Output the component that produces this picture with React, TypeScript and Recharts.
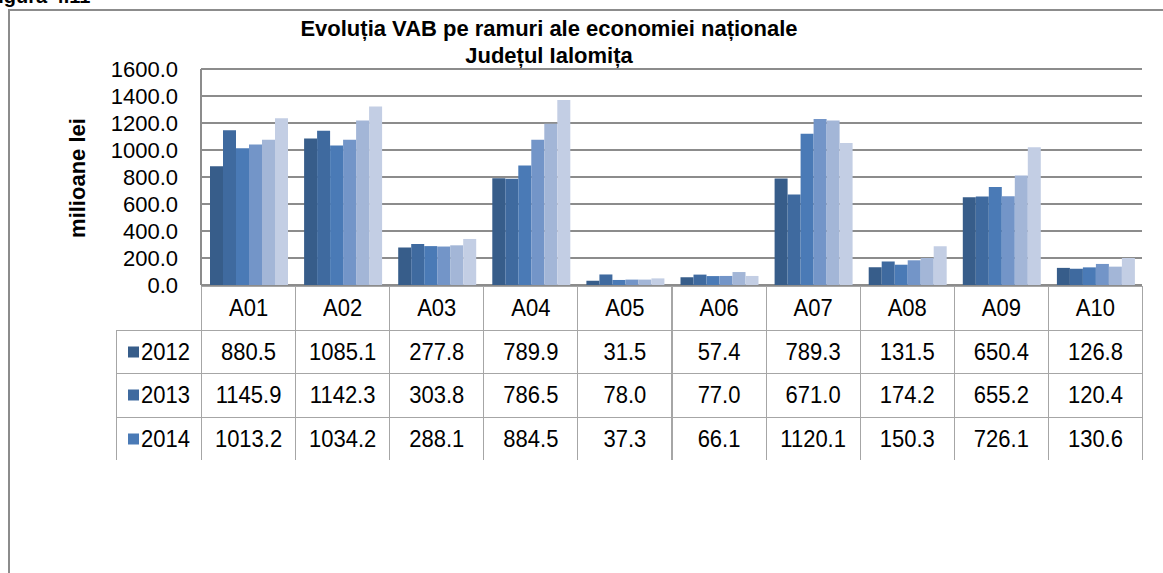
import { Bar, BarChart, CartesianGrid, XAxis, YAxis } from "recharts";

const categories = ["A01", "A02", "A03", "A04", "A05", "A06", "A07", "A08", "A09", "A10"];
const years = ["2012", "2013", "2014", "2015", "2016", "2017"];
const colors = ["#375d8a", "#3f6a9f", "#4a7ab6", "#7395c8", "#a3b6d7", "#c3cee4"];

const v2012 = [880.5, 1085.1, 277.8, 789.9, 31.5, 57.4, 789.3, 131.5, 650.4, 126.8];
const v2013 = [1145.9, 1142.3, 303.8, 786.5, 78.0, 77.0, 671.0, 174.2, 655.2, 120.4];
const v2014 = [1013.2, 1034.2, 288.1, 884.5, 37.3, 66.1, 1120.1, 150.3, 726.1, 130.6];
// later years are not in the visible part of the table
const v2015 = [1040, 1076, 285, 1076, 40, 67, 1229, 183, 658, 156];
const v2016 = [1076, 1219, 294, 1194, 40, 96, 1219, 200, 811, 136];
const v2017 = [1236, 1323, 341, 1370, 49, 67, 1051, 287, 1021, 200];

const series = [v2012, v2013, v2014, v2015, v2016, v2017];
const yTicks = [0, 200, 400, 600, 800, 1000, 1200, 1400, 1600];
const tableRows = 3; // only 2012-2014 rows are visible in the figure

const W = 1163;
const H = 573;
const plotLeft = 201;
const plotRight = 1142;
const plotTop = 69;
const plotBottom = 285;
const colW = (plotRight - plotLeft) / categories.length;
const rowH = 43.5;
const font = "'Liberation Sans', Arial, sans-serif";
const lineColor = "#a6a6a6";

const rows = categories.map((c, i) => {
  const r: Record<string, string | number> = { cat: c };
  years.forEach((y, k) => (r[y] = series[k][i]));
  return r;
});

function DataTable() {
  const cell = (left: number, top: number, w: number, content: React.ReactNode, key: string) => (
    <div
      key={key}
      style={{
        position: "absolute",
        left,
        top,
        width: w,
        height: rowH,
        borderLeft: `1px solid ${lineColor}`,
        borderRight: `1px solid ${lineColor}`,
        borderTop: `1px solid ${lineColor}`,
        boxSizing: "border-box",
        display: "flex",
        alignItems: "center",
        justifyContent: "center",
        fontFamily: font,
        fontSize: 22,
        color: "#000",
      }}
    >
      <span style={{ display: "inline-block", transform: "scaleY(1.1)" }}>{content}</span>
    </div>
  );
  const out: React.ReactNode[] = [];
  categories.forEach((c, i) => out.push(cell(plotLeft + i * colW, plotBottom + 1, colW + 1, c, "h" + i)));
  for (let r = 0; r < tableRows; r++) {
    const top = plotBottom + 1 + rowH * (r + 1);
    out.push(
      cell(
        116,
        top,
        plotLeft - 116 + 1,
        <span style={{ display: "flex", alignItems: "center" }}>
          <span style={{ width: 11, height: 10, background: colors[r], marginRight: 2 }} />
          {years[r]}
        </span>,
        "l" + r
      )
    );
    categories.forEach((_, i) =>
      out.push(cell(plotLeft + i * colW, top, colW + 1, series[r][i].toFixed(1), `c${r}-${i}`))
    );
  }
  return <>{out}</>;
}

export default function App() {
  return (
    <div style={{ position: "absolute", left: 0, top: 0, width: W, height: H, overflow: "hidden", background: "#fff" }}>
      <div
        style={{
          position: "absolute",
          left: -14,
          top: -15,
          fontFamily: font,
          fontWeight: "bold",
          fontSize: 20,
        }}
      >
        Figura 4.11
      </div>
      <div
        style={{
          position: "absolute",
          left: 8,
          top: 9,
          width: 1200,
          height: 620,
          border: "2px solid #8c8c8c",
        }}
      />
      <div
        style={{
          position: "absolute",
          left: 0,
          width: 1098,
          top: 15,
          textAlign: "center",
          fontFamily: font,
          fontWeight: "bold",
          fontSize: 22,
          lineHeight: "27px",
          color: "#000",
        }}
      >
        Evoluția VAB pe ramuri ale economiei naționale
        <br />
        Județul Ialomița
      </div>
      <div
        style={{
          position: "absolute",
          left: 78,
          top: 178,
          transform: "translate(-50%, -50%) rotate(-90deg)",
          fontFamily: font,
          fontWeight: "bold",
          fontSize: 22,
          whiteSpace: "nowrap",
        }}
      >
        milioane lei
      </div>
      <div style={{ position: "absolute", left: 0, top: 0 }}>
        <BarChart
          width={W}
          height={H}
          data={rows}
          margin={{ top: plotTop, right: W - plotRight, bottom: H - plotBottom, left: 0 }}
          barCategoryGap={9}
          barGap={0}
        >
          <CartesianGrid vertical={false} stroke="#8c8c8c" strokeWidth={2} />
          <XAxis dataKey="cat" hide />
          <YAxis
            width={plotLeft}
            domain={[0, 1600]}
            ticks={yTicks}
            tickFormatter={(v: number) => v.toFixed(1)}
            tickSize={0}
            tickMargin={23}
            axisLine={{ stroke: "#8c8c8c", strokeWidth: 2 }}
            tick={{ fill: "#000", fontSize: 22, fontFamily: font }}
            interval={0}
          />
          {years.map((y, k) => (
            <Bar key={y} dataKey={y} fill={colors[k]} isAnimationActive={false} />
          ))}
        </BarChart>
      </div>
      <DataTable />
    </div>
  );
}
